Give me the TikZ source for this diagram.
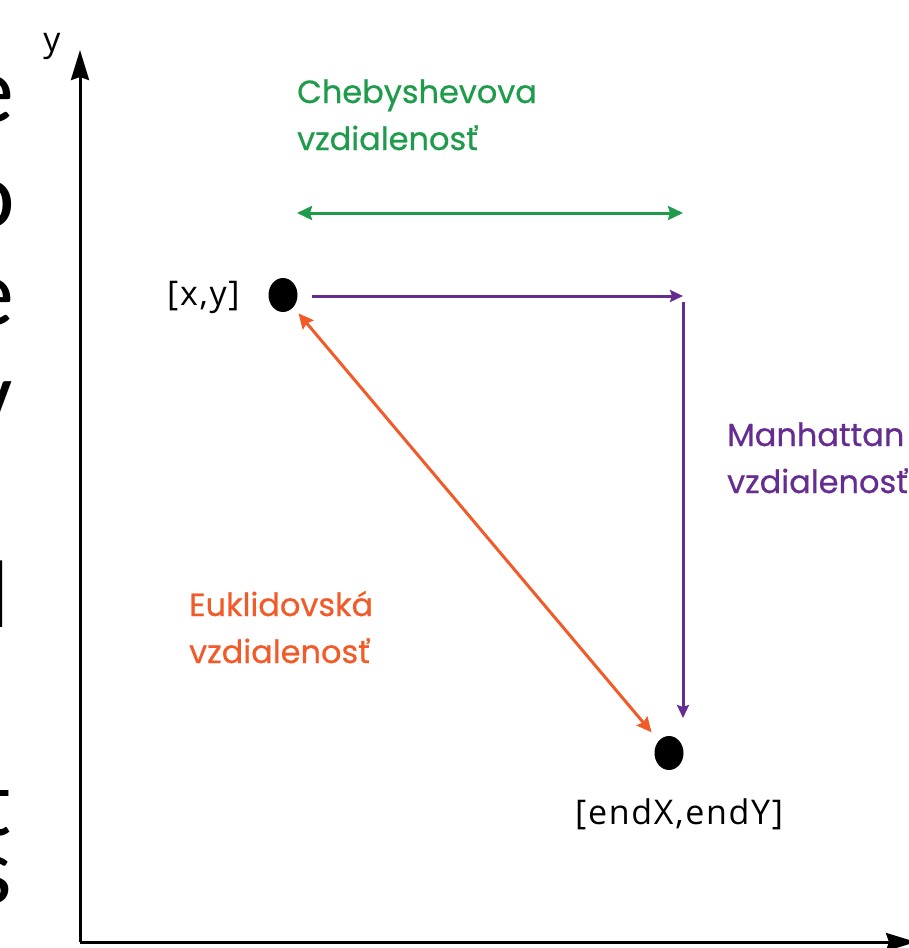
\documentclass[tikz,border=0pt]{standalone}
\usepackage{fontspec}
\setmainfont{Poppins}[FakeBold=0.6]
\newfontfamily\blackfont{Open Sans}[LetterSpace=5]
\newfontfamily\fragfont{Carlito}
\usetikzlibrary{arrows.meta,shapes.geometric}
\definecolor{chebgreen}{RGB}{30,155,75}
\definecolor{manpurple}{RGB}{102,45,145}
\definecolor{eukorange}{RGB}{241,90,41}
\tikzset{
  tipc/.tip={Stealth[length=15pt,width=14pt,inset=2pt]},
  tipm/.tip={Stealth[length=13pt,width=12pt,inset=2pt]},
  axis/.style={line width=3pt,-{Stealth[length=30pt,width=18pt,inset=3pt]}},
  dist/.style={line width=3pt},
  dot/.style={ellipse,fill=black,inner sep=0pt,minimum width=29pt,minimum height=34pt},
  lbl/.style={inner sep=0pt,anchor=base west,align=left,font=\fontsize{32}{47}\selectfont},
  ptlbl/.style={inner sep=0pt,anchor=base west,font=\blackfont\fontsize{34}{34}\selectfont},
  frag/.style={inner sep=0pt,anchor=base east,font=\fragfont\fontsize{96}{96}\selectfont}
}
\begin{document}
\begin{tikzpicture}[x=1pt,y=-1pt]
\useasboundingbox (0,0) rectangle (909,948);
\clip (0,0) rectangle (909,948);
% cropped fragments of slide text
\node[frag] (f1) at (14,122) {e};
\node[frag] (f2) at (15,227) {o};
\node[frag] (f3) at (14,325) {e};
\node[frag] (f4) at (13,427) {v};
\node[frag] (f5) at (10,627) {l};
\node[frag] (f6) at (12,835) {t};
\node[frag] (f7) at (12,903) {s};
% axes
\coordinate (o) at (80,942);
\coordinate (ytip) at (80,50);
\coordinate (xtip) at (916,942);
\draw[axis] (o) -- (ytip);
\draw[axis] (o) -- (xtip);
\node[inner sep=0pt,anchor=base,font=\blackfont\fontsize{34}{34}\selectfont] (ylab) at (52,51) {y};
% points
\node[dot] (p1) at (283,295) {};
\node[dot] (p2) at (669,753) {};
\node[ptlbl] (p1lab) at (167,305) {[x,y]};
\node[ptlbl] (p2lab) at (575,824) {[endX,endY]};
% Chebyshev
\coordinate (cL) at (297,213);
\coordinate (cR) at (683,213);
\draw[dist,chebgreen,tipc-tipc] (cL) -- (cR);
\node[lbl,text=chebgreen] (cheb) at (297,150) {Chebyshevova\\vzdialenosť};
% Manhattan
\coordinate (mS) at (312,296);
\coordinate (mC) at (683,296);
\coordinate (mV) at (683,302);
\coordinate (mE) at (683,718);
\draw[dist,manpurple,-tipm] (mS) -- (mC);
\draw[dist,manpurple,-tipm] (mV) -- (mE);
\node[lbl,text=manpurple] (man) at (727,493) {Manhattan\\vzdialenosť};
% Euclid
\draw[dist,eukorange,tipc-tipc,shorten <=8pt,shorten >=11pt] (p1) -- (p2);
\node[lbl,text=eukorange] (euk) at (189,663) {Euklidovská\\vzdialenosť};
\end{tikzpicture}
\end{document}
